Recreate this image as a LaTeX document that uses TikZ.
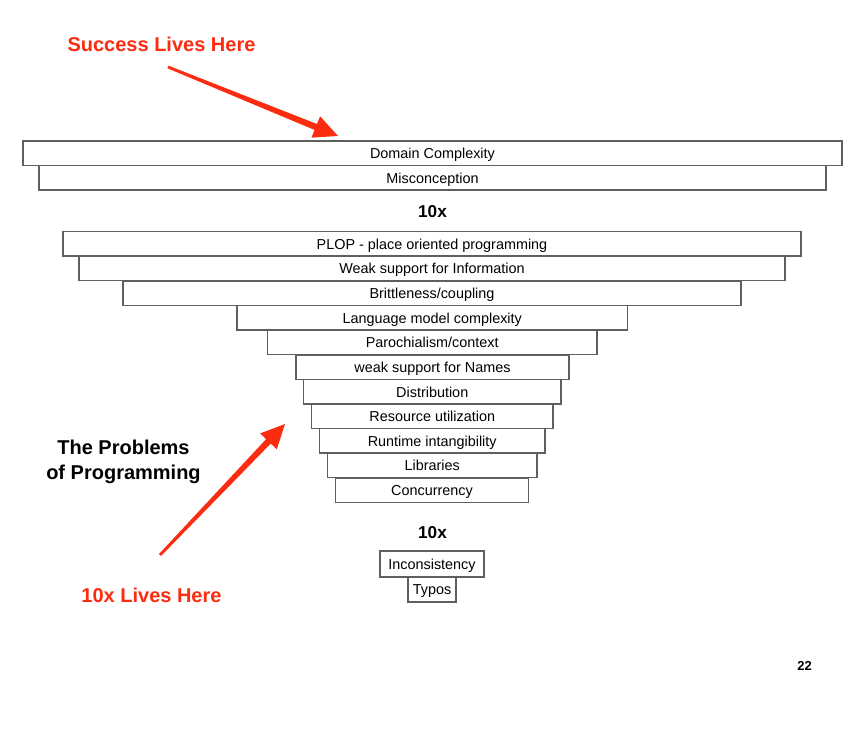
\documentclass[tikz,border=0pt]{standalone}
\usepackage{fontspec}
\setmainfont{Liberation Sans}
\usetikzlibrary{calc}
\definecolor{slidered}{RGB}{252,44,16}
\definecolor{boxline}{RGB}{95,95,95}
\tikzset{
  layer/.style={draw=boxline, line width=1.1pt, fill=white, inner sep=0pt,
    minimum height=24.5pt, font=\fontsize{14.4}{17}\selectfont,
    text height=12.5pt, text depth=2pt},
  tenx/.style={font=\bfseries\fontsize{17.2}{20}\selectfont, inner sep=0pt},
  redlabel/.style={font=\bfseries\fontsize{20}{23}\selectfont, text=slidered, inner sep=0pt},
  title/.style={font=\bfseries\fontsize{20}{25}\selectfont, align=center, inner sep=0pt},
  pointer/.style={fill=slidered, draw=none}
}
\newcommand{\fatarrow}[2]{%
  \coordinate (#2-hb) at ($(#2)!24pt!(#1)$);
  \fill[pointer] ($(#1)!1.4pt!90:(#2)$) -- ($(#2-hb)!3.2pt!90:(#2)$) -- ($(#2-hb)!11.5pt!90:(#2)$) -- (#2)
    -- ($(#2-hb)!11.5pt!-90:(#2)$) -- ($(#2-hb)!3.2pt!-90:(#2)$) -- ($(#1)!1.4pt!-90:(#2)$) -- cycle;}
\begin{document}
\begin{tikzpicture}[x=1pt,y=-1pt]
\useasboundingbox (0,0) rectangle (864,738);
\fill[white] (0,0) rectangle (864,738);
% layers
\node[layer, minimum width=819pt] (dom) at (432.5,153.25) {Domain Complexity};
\node[layer, minimum width=787pt] (mis) at (432.5,177.75) {Misconception};
\node[tenx] (tenA) at (432.5,212) {10x};
\node[layer, minimum width=738pt] (plop) at (432,243.75) {PLOP - place oriented programming};
\node[layer, minimum width=706pt] (info) at (432,268.5) {Weak support for Information};
\node[layer, minimum width=618pt] (brit) at (432,293.25) {Brittleness/coupling};
\node[layer, minimum width=390.5pt] (lang) at (432.25,317.75) {Language model complexity};
\node[layer, minimum width=329.5pt] (paro) at (432.25,342.5) {Parochialism/context};
\node[layer, minimum width=273pt] (names) at (432.5,367.25) {weak support for Names};
\node[layer, minimum width=257.5pt] (dist) at (432.25,391.75) {Distribution};
\node[layer, minimum width=241.5pt] (res) at (432.25,416.25) {Resource utilization};
\node[layer, minimum width=225.5pt] (run) at (432.25,440.75) {Runtime intangibility};
\node[layer, minimum width=209.5pt] (lib) at (432.25,465.5) {Libraries};
\node[layer, minimum width=193pt] (conc) at (432,490.25) {Concurrency};
\node[tenx] (tenB) at (432.5,533) {10x};
\node[layer, minimum width=104pt, minimum height=26pt] (incon) at (432,564) {Inconsistency};
\node[layer, minimum width=48pt, minimum height=25pt] (typos) at (432,589.5) {Typos};
% labels
\node[redlabel] (succ) at (161.5,44) {Success Lives Here};
\node[redlabel] (tenlive) at (151.5,595) {10x Lives Here};
\node[title] (prob) at (123.5,461.5) {The Problems\\of Programming};
\node[font=\bfseries\fontsize{13}{15}\selectfont, inner sep=0pt] (page) at (804.5,666) {22};
% pointers
\coordinate (succTail) at (168,67);
\coordinate (succTip) at (338,136);
\coordinate (tenTail) at (160,555);
\coordinate (tenTip) at (285,424);
\fatarrow{succTail}{succTip}
\fatarrow{tenTail}{tenTip}
\end{tikzpicture}
\end{document}
